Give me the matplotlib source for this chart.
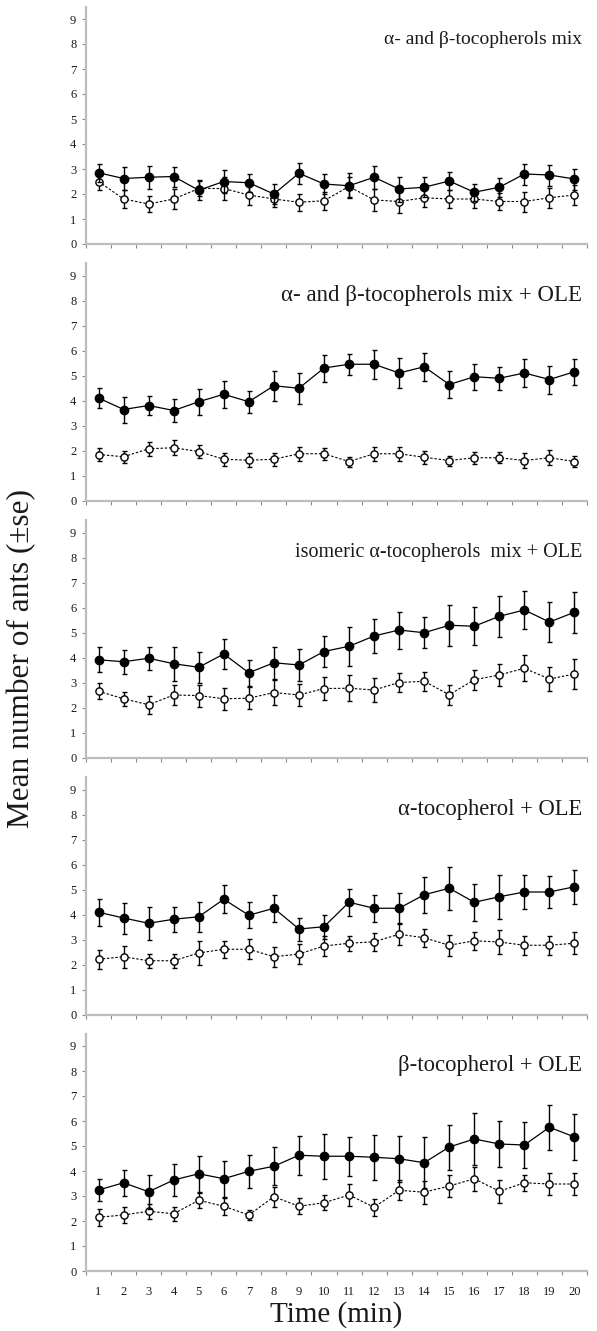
import matplotlib
matplotlib.use("Agg")
import matplotlib.pyplot as plt
from matplotlib.ticker import FixedLocator

plt.rcParams['font.family'] = ['Liberation Serif', 'DejaVu Serif']

minutes = list(range(1, 21))
y_ticks = list(range(0, 10))

panel_titles = [
    "\u03b1- and \u03b2-tocopherols mix",
    "\u03b1- and \u03b2-tocopherols mix + OLE",
    "isomeric \u03b1-tocopherols  mix + OLE",
    "\u03b1-tocopherol + OLE",
    "\u03b2-tocopherol + OLE",
]
title_sizes = [14, 16.5, 14.5, 16.3, 16.3]

# treated (filled circles) and control (open circles), mean and standard error
treated_1 = [2.85, 2.62, 2.67, 2.70, 2.15, 2.50, 2.45, 2.00, 2.83, 2.40,
             2.33, 2.67, 2.20, 2.27, 2.52, 2.07, 2.27, 2.80, 2.76, 2.60]
treated_se_1 = [0.35, 0.45, 0.45, 0.40, 0.40, 0.45, 0.35, 0.40, 0.42, 0.40,
                0.50, 0.45, 0.50, 0.40, 0.35, 0.35, 0.38, 0.42, 0.42, 0.42]
control_1 = [2.50, 1.80, 1.60, 1.80, 2.22, 2.22, 1.96, 1.80, 1.67, 1.73,
             2.30, 1.76, 1.70, 1.85, 1.80, 1.80, 1.70, 1.70, 1.85, 1.96]
control_se_1 = [0.33, 0.37, 0.31, 0.39, 0.30, 0.45, 0.40, 0.30, 0.33, 0.37,
                0.40, 0.45, 0.45, 0.35, 0.35, 0.35, 0.35, 0.40, 0.40, 0.40]

treated_2 = [4.10, 3.64, 3.80, 3.60, 3.95, 4.25, 3.95, 4.59, 4.49, 5.30,
             5.45, 5.45, 5.10, 5.35, 4.64, 4.95, 4.89, 5.10, 4.84, 5.15]
treated_se_2 = [0.39, 0.52, 0.39, 0.45, 0.53, 0.53, 0.44, 0.59, 0.61, 0.54,
                0.43, 0.59, 0.60, 0.57, 0.53, 0.51, 0.45, 0.55, 0.56, 0.53]
control_2 = [1.84, 1.75, 2.07, 2.11, 1.96, 1.65, 1.61, 1.65, 1.87, 1.87,
             1.56, 1.87, 1.87, 1.73, 1.60, 1.71, 1.71, 1.60, 1.71, 1.56]
control_se_2 = [0.25, 0.24, 0.29, 0.30, 0.25, 0.26, 0.28, 0.25, 0.27, 0.25,
                0.20, 0.27, 0.29, 0.25, 0.20, 0.25, 0.22, 0.30, 0.30, 0.23]

treated_3 = [3.91, 3.83, 3.97, 3.75, 3.61, 4.14, 3.39, 3.79, 3.70, 4.24,
             4.45, 4.86, 5.10, 4.99, 5.29, 5.25, 5.65, 5.90, 5.42, 5.81]
treated_se_3 = [0.50, 0.48, 0.47, 0.69, 0.61, 0.60, 0.53, 0.63, 0.63, 0.63,
                0.79, 0.69, 0.74, 0.62, 0.81, 0.76, 0.81, 0.77, 0.80, 0.82]
control_3 = [2.65, 2.35, 2.11, 2.50, 2.48, 2.35, 2.37, 2.60, 2.50, 2.76,
             2.77, 2.70, 3.00, 3.05, 2.51, 3.11, 3.30, 3.57, 3.14, 3.34]
control_se_3 = [0.32, 0.29, 0.37, 0.39, 0.44, 0.43, 0.44, 0.50, 0.45, 0.47,
                0.52, 0.47, 0.39, 0.39, 0.41, 0.40, 0.45, 0.52, 0.49, 0.59]

treated_4 = [4.09, 3.86, 3.65, 3.81, 3.91, 4.61, 3.97, 4.25, 3.42, 3.51,
             4.49, 4.25, 4.25, 4.79, 5.05, 4.49, 4.71, 4.90, 4.90, 5.11]
treated_se_4 = [0.54, 0.62, 0.66, 0.51, 0.60, 0.56, 0.52, 0.53, 0.46, 0.49,
                0.55, 0.53, 0.60, 0.72, 0.87, 0.73, 0.89, 0.69, 0.65, 0.67]
control_4 = [2.21, 2.31, 2.15, 2.15, 2.46, 2.61, 2.61, 2.31, 2.42, 2.74,
             2.85, 2.91, 3.21, 3.07, 2.77, 2.95, 2.90, 2.77, 2.77, 2.85]
control_se_4 = [0.37, 0.43, 0.28, 0.27, 0.49, 0.35, 0.40, 0.39, 0.39, 0.39,
                0.31, 0.35, 0.43, 0.37, 0.42, 0.37, 0.47, 0.38, 0.37, 0.44]

treated_5 = [3.24, 3.53, 3.17, 3.64, 3.89, 3.69, 3.99, 4.19, 4.63, 4.59,
             4.59, 4.55, 4.49, 4.33, 4.96, 5.28, 5.08, 5.04, 5.75, 5.36]
treated_se_5 = [0.43, 0.53, 0.67, 0.65, 0.71, 0.73, 0.66, 0.76, 0.79, 0.90,
                0.79, 0.89, 0.91, 1.02, 0.90, 1.05, 0.91, 0.91, 0.90, 0.91]
control_5 = [2.15, 2.24, 2.39, 2.29, 2.83, 2.59, 2.24, 2.97, 2.59, 2.73,
             3.04, 2.55, 3.23, 3.15, 3.40, 3.69, 3.19, 3.53, 3.48, 3.48]
control_se_5 = [0.33, 0.33, 0.31, 0.29, 0.31, 0.35, 0.20, 0.39, 0.32, 0.30,
                0.43, 0.35, 0.40, 0.45, 0.45, 0.48, 0.45, 0.33, 0.43, 0.43]

panels = [
    (treated_1, treated_se_1, control_1, control_se_1),
    (treated_2, treated_se_2, control_2, control_se_2),
    (treated_3, treated_se_3, control_3, control_se_3),
    (treated_4, treated_se_4, control_4, control_se_4),
    (treated_5, treated_se_5, control_5, control_se_5),
]

W, H = 597, 1331
fig = plt.figure(figsize=(W / 100, H / 100), dpi=100)

left_px, width_px = 86, 501
unit_px = 25.0
y_max = 9.5
zero_px = [244, 500.5, 757.5, 1014.5, 1271]
spine_color = '#bdbdbd'
text_color = '#1a1a1a'

for k, (t_mean, t_se, c_mean, c_se) in enumerate(panels):
    height_px = y_max * unit_px
    ax = fig.add_axes([left_px / W, (H - zero_px[k]) / H,
                       width_px / W, height_px / H])
    ax.set_xlim(0.5, 20.5)
    ax.set_ylim(0, y_max)

    ax.errorbar(minutes, c_mean, yerr=c_se, fmt='o', linestyle=(0, (2.2, 1.6)),
                color='black', mfc='white', mec='black', mew=1.0, ms=5.2,
                lw=0.8, elinewidth=1.0, capsize=1.8, capthick=1.0, zorder=2)
    ax.errorbar(minutes, t_mean, yerr=t_se, fmt='o', linestyle='-',
                color='black', mfc='black', mec='black', ms=6.0,
                lw=0.9, elinewidth=1.0, capsize=1.8, capthick=1.0, zorder=3)

    ax.text(20.3, 8.2, panel_titles[k], ha='right', va='center',
            fontsize=title_sizes[k], color=text_color)

    for side in ('top', 'right'):
        ax.spines[side].set_visible(False)
    for side in ('left', 'bottom'):
        ax.spines[side].set_color(spine_color)
        ax.spines[side].set_linewidth(1.6)

    ax.yaxis.set_major_locator(FixedLocator(y_ticks))
    ax.tick_params(axis='y', direction='out', length=3, width=0.8,
                   color='#888888', labelsize=9, labelcolor=text_color, pad=4)

    ax.xaxis.set_major_locator(FixedLocator(minutes))
    ax.xaxis.set_minor_locator(FixedLocator([m + 0.5 for m in range(0, 21)]))
    ax.tick_params(axis='x', which='major', length=0, labelsize=9,
                   labelcolor=text_color, pad=11)
    ax.tick_params(axis='x', which='minor', direction='out', length=3,
                   width=0.8, color='#888888')
    if k < len(panels) - 1:
        ax.tick_params(axis='x', which='major', labelbottom=False)

fig.text(22 / W, 1 - 658 / H, 'Mean number of ants (\u00b1se)', rotation=90,
         ha='center', va='center', fontsize=22.5, color=text_color)
fig.text((left_px + width_px / 2) / W, 1 - 1315 / H, 'Time (min)',
         ha='center', va='center', fontsize=21, color=text_color)

fig.savefig('out.png', dpi=100)
